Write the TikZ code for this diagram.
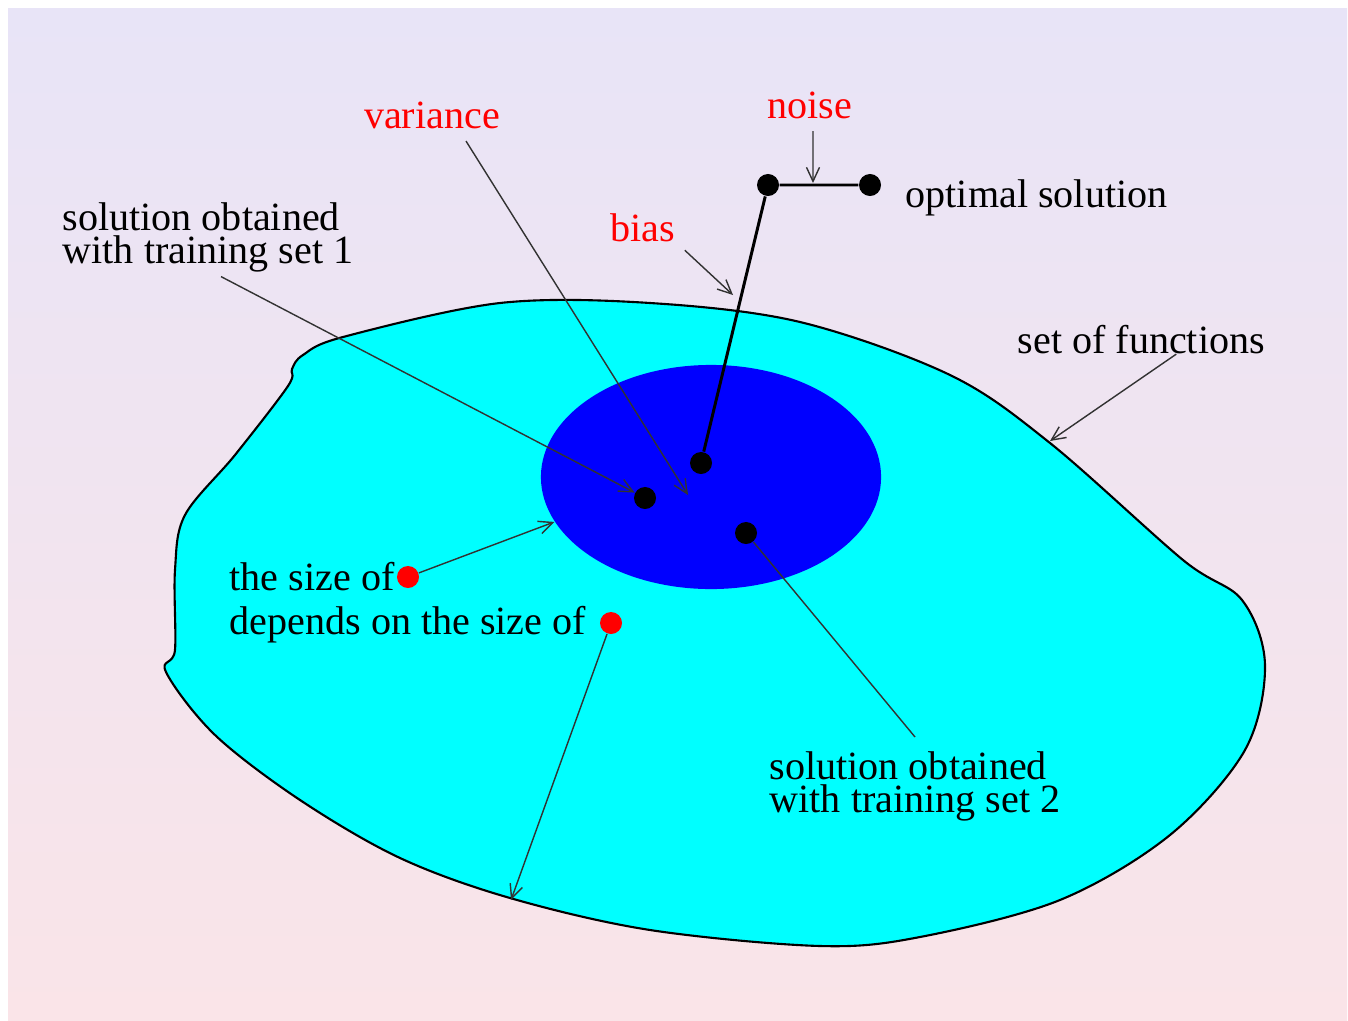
\documentclass[tikz,border=0pt]{standalone}
\usepackage{fontspec}
\setmainfont{Liberation Serif}
\usetikzlibrary{arrows.meta,shapes.geometric}
\definecolor{bgtop}{RGB}{232,228,247}
\definecolor{bgbot}{RGB}{250,228,232}
\definecolor{funcset}{RGB}{0,255,255}
\definecolor{ptr}{RGB}{50,50,50}
\tikzset{
  lbl/.style={inner sep=0pt, font=\fontsize{11.4}{9.3}\selectfont},
  redlbl/.style={lbl, text=red},
  soldot/.style={circle, fill=black, inner sep=0pt, minimum size=0.22cm},
  sizedot/.style={circle, fill=red, inner sep=0pt, minimum size=0.22cm},
  ptrline/.style={draw=ptr, line width=0.4pt},
  ptrarrow/.style={ptrline, -{Straight Barb[length=1.4mm,width=1.3mm]}},
}
\begin{document}
\begin{tikzpicture}[x=0.01cm, y=-0.01cm]
\useasboundingbox (0,0) rectangle (1348,1021);
% background
\fill[white] (0,0) rectangle (1348,1021);
\shade[top color=bgtop, bottom color=bgbot] (8,8) rectangle (1347,1020);
% set of functions
\draw[fill=funcset, line width=0.6pt] plot[smooth cycle, tension=0.55] coordinates {
  (343,337) (500,303) (650,303) (800,322) (950,375) (1050,443) (1183,560)
  (1242,600) (1265,665) (1245,750) (1170,835) (1060,900) (920,937)
  (820,946) (650,930) (510,898) (400,858) (300,800) (215,735) (166,672)
  (175,650) (175,570) (185,515) (235,455) (288,386) (292,369) (303,355)};
% variance region
\node[ellipse, fill=blue, minimum width=3.4cm, minimum height=2.24cm, inner sep=0pt] (var) at (711,477) {};
% solutions
\node[soldot] (opt) at (870,185) {};
\node[soldot] (noisy) at (768,185) {};
\node[soldot] (avg) at (701,463) {};
\node[soldot] (s1) at (645,498) {};
\node[soldot] (s2) at (746,533) {};
\node[sizedot] (r1) at (408,577) {};
\node[sizedot] (r2) at (611,623) {};
% labels
\node[redlbl, anchor=base] (variance) at (432,128) {variance};
\node[redlbl, anchor=base] (noise) at (810,118) {noise};
\node[redlbl, anchor=base] (bias) at (643,241) {bias};
\node[lbl, anchor=base west] (optlbl) at (905,207) {optimal solution};
\node[lbl, anchor=north west, align=left] (sol1) at (62,202) {solution obtained\\with training set 1};
\node[lbl, anchor=base west] (funcs) at (1017,353) {set of functions};
\node[lbl, anchor=base west] (sizeof) at (229,590) {the size of};
\node[lbl, anchor=base west] (depends) at (229,634) {depends on the size of};
\node[lbl, anchor=north west, align=left] (sol2) at (769,751) {solution obtained\\with training set 2};
% arrow ends
\coordinate (nz) at (813,183);
\coordinate (bz) at (733,295);
\coordinate (vz) at (688,495);
\coordinate (fz) at (1050,441);
\coordinate (dz) at (511,900);
% bias and noise
\draw[line width=0.85pt] (opt) -- (noisy) -- (avg);
% pointers
\draw[ptrarrow, shorten <=1.2mm] ([xshift=0.3mm]noise.south) -- (nz);
\draw[ptrarrow, shorten <=1.2mm] (bias.south east) -- (bz);
\draw[ptrarrow] ([xshift=3.4mm,yshift=-1.2mm]variance.south) -- (vz);
\draw[ptrarrow] ([xshift=1.3mm,yshift=-0.4mm]sol1.south) -- (s1);
\draw[ptrarrow] ([xshift=3.5mm]funcs.south) -- (fz);
\draw[ptrarrow] (r1) -- (var.196);
\draw[ptrarrow] (r2) -- (dz);
\draw[ptrline] (s2) -- ([yshift=1.4mm]sol2.north);
\end{tikzpicture}
\end{document}
